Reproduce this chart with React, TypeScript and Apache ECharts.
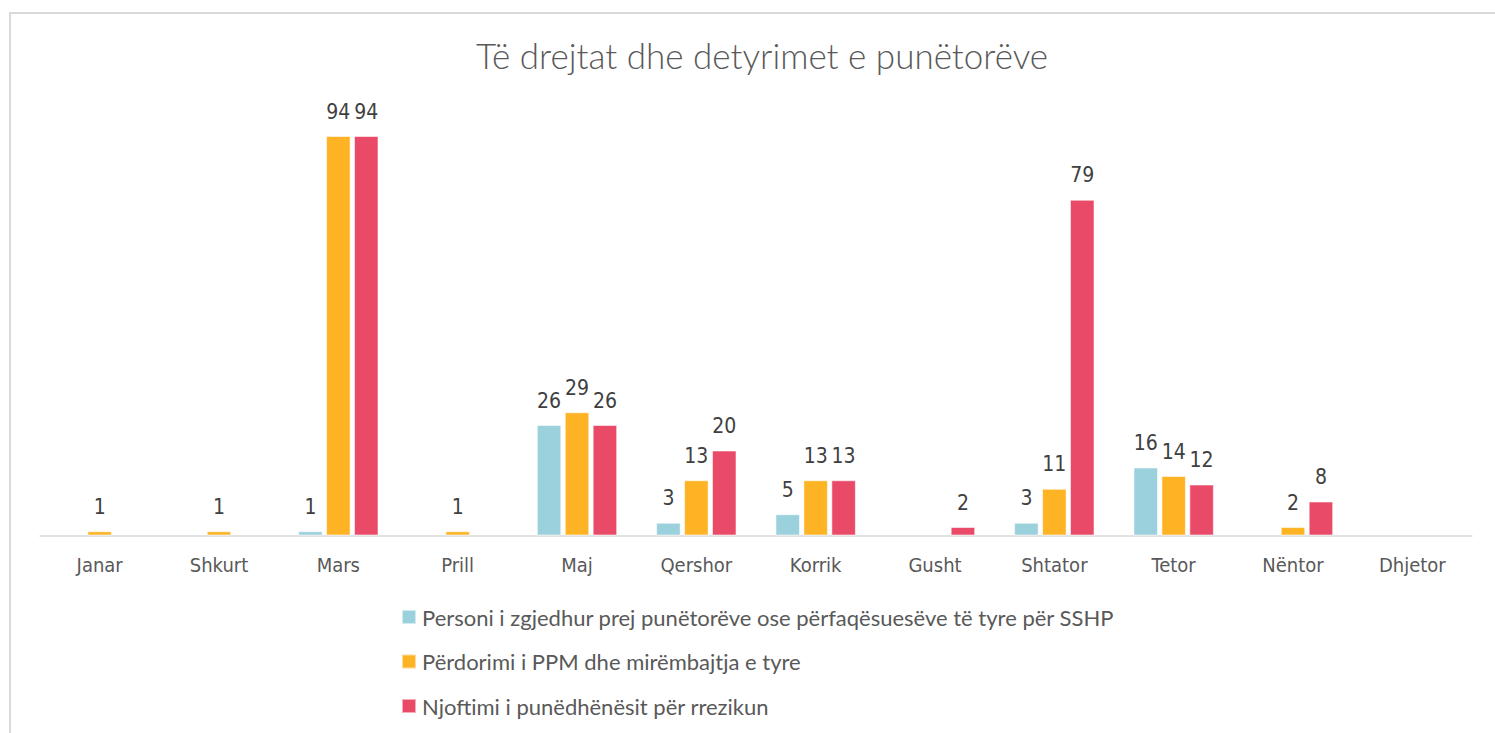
import React, { useEffect, useRef } from "react";
import * as echarts from "echarts";

const categories = ["Janar", "Shkurt", "Mars", "Prill", "Maj", "Qershor", "Korrik", "Gusht", "Shtator", "Tetor", "Nëntor", "Dhjetor"];
const seriesNames = [
  "Personi i zgjedhur prej punëtorëve ose përfaqësuesëve të tyre për SSHP",
  "Përdorimi i PPM dhe mirëmbajtja e tyre",
  "Njoftimi i punëdhënësit për rrezikun",
];
const personiValues = [null, null, 1, null, 26, 3, 5, null, 3, 16, null, null];
const perdorimiValues = [1, 1, 94, 1, 29, 13, 13, null, 11, 14, 2, null];
const njoftimiValues = [null, null, 94, null, 26, 20, 13, 2, 79, 12, 8, null];
const colors = ["#9BD0DD", "#FDB323", "#E84A67"];

const narrow = '"DejaVu Sans Condensed", "Liberation Sans Narrow", sans-serif';

export default function App() {
  const ref = useRef<HTMLDivElement>(null);
  useEffect(() => {
    if (!ref.current) return;
    const chart = echarts.init(ref.current, null, { renderer: "svg" });
    const data = [personiValues, perdorimiValues, njoftimiValues];
    chart.setOption({
      animation: false,
      backgroundColor: "#FFFFFF",
      title: {
        text: "Të drejtat dhe detyrimet e punëtorëve",
        left: 757,
        top: 32,
        textAlign: "center",
        textStyle: { fontFamily: "Lato", fontWeight: 300, fontSize: 35, color: "#595959" },
      },
      graphic: [
        {
          type: "rect",
          shape: { x: 10, y: 13, width: 3000, height: 3000 },
          style: { fill: "none", stroke: "#D9D9D9", lineWidth: 2 },
          silent: true,
          z: -1,
        },
      ],
      legend: {
        orient: "vertical",
        left: 401,
        top: 605,
        padding: 0,
        itemWidth: 14,
        itemHeight: 14,
        itemGap: 20.5,
        icon: "rect",
        data: seriesNames,
        textStyle: { fontFamily: "Lato", fontSize: 22, color: "#595959", lineHeight: 24, padding: [0, 0, 0, 1] },
      },
      grid: { left: 40, right: 23, top: 110.5, bottom: 197.5, containLabel: false },
      xAxis: {
        type: "category",
        data: categories,
        axisLine: { show: true, lineStyle: { color: "#D9D9D9", width: 1.5 } },
        axisTick: { show: false },
        axisLabel: { fontFamily: narrow, fontSize: 20, color: "#595959", margin: 19 },
      },
      yAxis: {
        type: "value",
        min: 0,
        max: 100,
        show: false,
        splitLine: { show: false },
      },
      series: seriesNames.map((name, i) => ({
        name,
        type: "bar",
        data: data[i],
        barWidth: 24.5,
        barGap: "14%",
        itemStyle: { color: colors[i], borderColor: "rgba(255,255,255,0.55)", borderWidth: 1 },
        label: {
          show: true,
          position: "top",
          distance: 14,
          fontFamily: narrow,
          fontSize: 21,
          color: "#404040",
        },
      })),
    });
    return () => chart.dispose();
  }, []);
  return <div ref={ref} style={{ position: "fixed", left: 0, top: 0, width: 1495, height: 733 }} />;
}
